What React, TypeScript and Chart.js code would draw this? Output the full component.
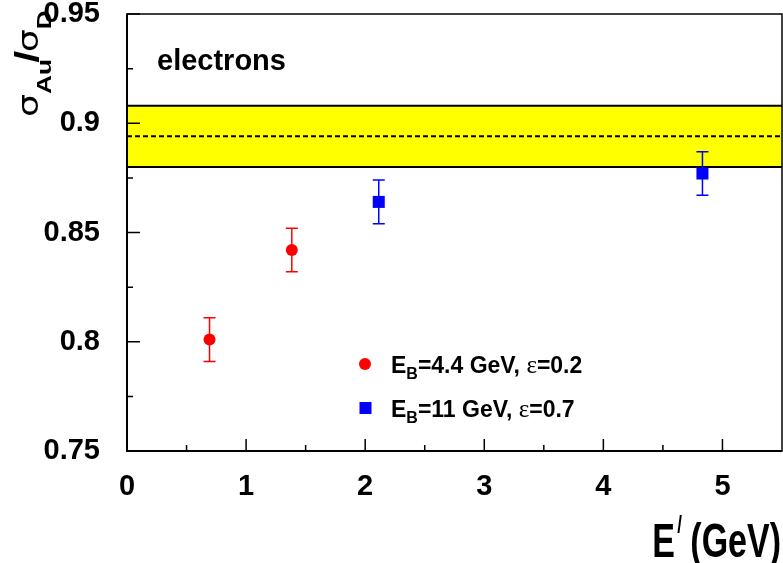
import React, { useEffect, useRef } from "react";
import { Chart, registerables } from "chart.js";

Chart.register(...registerables);

// ---- data ----
const redX = [0.693, 1.384];
const redY = [0.801, 0.842];
const redErr = [0.01, 0.01];
const blueX = [2.114, 4.832];
const blueY = [0.864, 0.877];
const blueErr = [0.01, 0.01];

const bandLow = 0.88;
const bandHigh = 0.908;
const bandCenter = 0.894;

const xMajorTicks = [0, 1, 2, 3, 4, 5];
const xMinorTicks = [0.5, 1.5, 2.5, 3.5, 4.5];
const yMajorTicks = [0.75, 0.8, 0.85, 0.9, 0.95];
const yMinorTicks = [0.775, 0.825, 0.875, 0.925];

const legendLabels = [
  { sub: "B", main: "=4.4 GeV, ", eps: "0.2" },
  { sub: "B", main: "=11 GeV, ", eps: "0.7" },
];

const SANS = "'Liberation Sans', Arial, sans-serif";

const overlayPlugin = {
  id: "overlay",
  beforeDatasetsDraw(chart: any) {
    const { ctx, chartArea } = chart;
    const y = chart.scales.y;
    const yTop = y.getPixelForValue(bandHigh);
    const yBot = y.getPixelForValue(bandLow);
    const yMid = y.getPixelForValue(bandCenter);
    ctx.save();
    ctx.fillStyle = "#ffff00";
    ctx.fillRect(chartArea.left, yTop, chartArea.right - chartArea.left, yBot - yTop);
    ctx.strokeStyle = "#000";
    ctx.lineWidth = 2;
    ctx.beginPath();
    ctx.moveTo(chartArea.left, yTop);
    ctx.lineTo(chartArea.right, yTop);
    ctx.moveTo(chartArea.left, yBot);
    ctx.lineTo(chartArea.right, yBot);
    ctx.stroke();
    ctx.setLineDash([5, 3]);
    ctx.beginPath();
    ctx.moveTo(chartArea.left, yMid);
    ctx.lineTo(chartArea.right, yMid);
    ctx.stroke();
    ctx.restore();

    // error bars
    const x = chart.scales.x;
    const drawErr = (xs: number[], ys: number[], es: number[], color: string) => {
      ctx.save();
      ctx.strokeStyle = color;
      ctx.lineWidth = 1.5;
      for (let i = 0; i < xs.length; i++) {
        const px = x.getPixelForValue(xs[i]);
        const p1 = y.getPixelForValue(ys[i] + es[i]);
        const p2 = y.getPixelForValue(ys[i] - es[i]);
        ctx.beginPath();
        ctx.moveTo(px, p1);
        ctx.lineTo(px, p2);
        ctx.moveTo(px - 6, p1);
        ctx.lineTo(px + 6, p1);
        ctx.moveTo(px - 6, p2);
        ctx.lineTo(px + 6, p2);
        ctx.stroke();
      }
      ctx.restore();
    };
    drawErr(redX, redY, redErr, "#ff0000");
    drawErr(blueX, blueY, blueErr, "#0000ff");
  },
  afterDraw(chart: any) {
    const { ctx, chartArea } = chart;
    const x = chart.scales.x;
    const y = chart.scales.y;
    ctx.save();
    // frame
    ctx.strokeStyle = "#000";
    ctx.lineWidth = 1.5;
    ctx.strokeRect(chartArea.left, chartArea.top, chartArea.right - chartArea.left, chartArea.bottom - chartArea.top);
    ctx.lineWidth = 2;
    ctx.beginPath();
    ctx.moveTo(chartArea.left, chartArea.top);
    ctx.lineTo(chartArea.left, chartArea.bottom);
    ctx.lineTo(chartArea.right, chartArea.bottom);
    ctx.stroke();
    // inward ticks
    ctx.lineWidth = 1.5;
    ctx.beginPath();
    xMajorTicks.forEach((v) => {
      const p = x.getPixelForValue(v);
      ctx.moveTo(p, chartArea.bottom);
      ctx.lineTo(p, chartArea.bottom - 12);
    });
    xMinorTicks.forEach((v) => {
      const p = x.getPixelForValue(v);
      ctx.moveTo(p, chartArea.bottom);
      ctx.lineTo(p, chartArea.bottom - 6);
    });
    yMajorTicks.forEach((v) => {
      const p = y.getPixelForValue(v);
      ctx.moveTo(chartArea.left, p);
      ctx.lineTo(chartArea.left + 13, p);
    });
    yMinorTicks.forEach((v) => {
      const p = y.getPixelForValue(v);
      ctx.moveTo(chartArea.left, p);
      ctx.lineTo(chartArea.left + 6, p);
    });
    ctx.stroke();

    // "electrons"
    ctx.fillStyle = "#000";
    ctx.textBaseline = "alphabetic";
    ctx.textAlign = "left";
    ctx.font = `bold 29px ${SANS}`;
    ctx.fillText("electrons", 157, 70);

    // legend
    const rows = [
      { color: "#ff0000", shape: "circle", base: 373, cy: 364 },
      { color: "#0000ff", shape: "rect", base: 417, cy: 408 },
    ];
    rows.forEach((r, i) => {
      ctx.fillStyle = r.color;
      if (r.shape === "circle") {
        ctx.beginPath();
        ctx.arc(365, r.cy, 6, 0, Math.PI * 2);
        ctx.fill();
      } else {
        ctx.fillRect(359.5, r.cy - 6, 12, 12);
      }
      ctx.fillStyle = "#000";
      let tx = 391;
      const lab = legendLabels[i];
      ctx.font = `bold 23px ${SANS}`;
      ctx.fillText("E", tx, r.base);
      tx += ctx.measureText("E").width;
      ctx.font = `bold 16px ${SANS}`;
      ctx.fillText(lab.sub, tx, r.base + 6);
      tx += ctx.measureText(lab.sub).width;
      ctx.font = `bold 23px ${SANS}`;
      ctx.fillText(lab.main, tx, r.base);
      tx += ctx.measureText(lab.main).width;
      ctx.font = `25px 'Liberation Serif', serif`;
      ctx.fillText("\u03b5", tx, r.base);
      tx += ctx.measureText("\u03b5").width;
      ctx.font = `bold 23px ${SANS}`;
      ctx.fillText("=" + lab.eps, tx, r.base);
    });

    // x axis title (vertically stretched)
    ctx.save();
    ctx.translate(0, 557);
    ctx.scale(1, 1.4);
    ctx.font = `bold 34px ${SANS}`;
    ctx.textAlign = "right";
    ctx.fillText(" (GeV)", 781, 0);
    const w1 = ctx.measureText(" (GeV)").width;
    ctx.fillText("E", 781 - w1 - 6, 0);
    ctx.font = `bold 17px ${SANS}`;
    ctx.fillText("/", 781 - w1 + 1, -17);
    ctx.restore();

    // y axis title (rotated, stretched along text)
    ctx.save();
    ctx.translate(38, 117);
    ctx.rotate(-Math.PI / 2);
    ctx.scale(1.25, 1);
    ctx.textAlign = "left";
    let t = 0;
    ctx.font = `29px 'DejaVu Sans', sans-serif`;
    ctx.fillText("\u03c3", t, 0);
    t += ctx.measureText("\u03c3").width;
    ctx.font = `bold 21px ${SANS}`;
    ctx.fillText("Au", t, 13);
    t += ctx.measureText("Au").width;
    ctx.font = `bold 34px ${SANS}`;
    ctx.fillText("/", t - 3, 0);
    t += ctx.measureText("/").width - 4;
    ctx.font = `29px 'DejaVu Sans', sans-serif`;
    ctx.fillText("\u03c3", t, 0);
    t += ctx.measureText("\u03c3").width;
    ctx.font = `bold 21px ${SANS}`;
    ctx.fillText("D", t, 13);
    ctx.restore();

    ctx.restore();
  },
};

const zeroPad = (s: any) => {
  s.paddingTop = 0;
  s.paddingBottom = 0;
  s.paddingLeft = 0;
  s.paddingRight = 0;
};

export default function App() {
  const ref = useRef<HTMLCanvasElement | null>(null);
  useEffect(() => {
    if (!ref.current) return;
    const chart = new Chart(ref.current, {
      type: "scatter",
      data: {
        datasets: [
          {
            label: "red",
            data: redX.map((v, i) => ({ x: v, y: redY[i] })),
            backgroundColor: "#ff0000",
            borderColor: "#ff0000",
            pointStyle: "circle",
            pointRadius: 6,
            borderWidth: 0,
          },
          {
            label: "blue",
            data: blueX.map((v, i) => ({ x: v, y: blueY[i] })),
            backgroundColor: "#0000ff",
            borderColor: "#0000ff",
            pointStyle: "rect",
            pointRadius: 8.5,
            borderWidth: 0,
          },
        ],
      },
      options: {
        animation: false,
        responsive: false,
        layout: { autoPadding: false, padding: { top: 14, right: 1, left: 0, bottom: 0 } },
        plugins: { legend: { display: false }, tooltip: { enabled: false } },
        scales: {
          x: {
            type: "linear",
            min: 0,
            max: 5.5,
            grid: { display: false },
            border: { display: false },
            ticks: {
              stepSize: 1,
              includeBounds: false,
              padding: 11,
              color: "#000",
              font: { family: SANS, size: 29, weight: "bold" },
              callback: (v: any) => String(v),
            },
            afterFit: (s: any) => {
              s.height = 112;
              zeroPad(s);
            },
          },
          y: {
            type: "linear",
            min: 0.75,
            max: 0.95,
            grid: { display: false },
            border: { display: false },
            ticks: {
              stepSize: 0.05,
              padding: 19,
              color: "#000",
              font: { family: SANS, size: 29, weight: "bold" },
              callback: (v: any) => String(Number(Number(v).toFixed(3))),
            },
            afterFit: (s: any) => {
              s.width = 127;
              zeroPad(s);
            },
          },
        },
      },
      plugins: [overlayPlugin],
    });
    return () => chart.destroy();
  }, []);
  return (
    <div style={{ position: "absolute", left: 0, top: 0, width: 783, height: 563, background: "#fff" }}>
      <canvas ref={ref} width={783} height={563} style={{ display: "block" }} />
    </div>
  );
}
